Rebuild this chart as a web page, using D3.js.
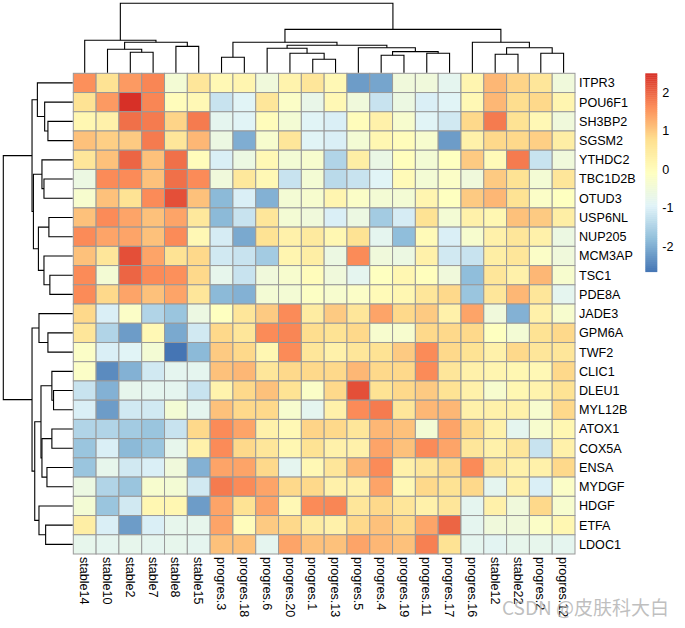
<!DOCTYPE html>
<html><head><meta charset="utf-8">
<script src="https://cdn.jsdelivr.net/npm/d3@7"></script>
<style>html,body{margin:0;padding:0;background:#fff;} svg{display:block;}</style>
</head><body>
<svg id="chart" width="685" height="628"></svg>
<script>
const rowLabels = ["ITPR3","POU6F1","SH3BP2","SGSM2","YTHDC2","TBC1D2B","OTUD3","USP6NL","NUP205","MCM3AP","TSC1","PDE8A","JADE3","GPM6A","TWF2","CLIC1","DLEU1","MYL12B","ATOX1","COX5A","ENSA","MYDGF","HDGF","ETFA","LDOC1"];
const colLabels = ["stable14","stable10","stable2","stable7","stable8","stable15","progres.3","progres.18","progres.6","progres.20","progres.1","progres.13","progres.5","progres.4","progres.19","progres.11","progres.17","progres.16","stable12","stable22","progres.2","progres.12"];
const values = [
 [1.6,0.7,1.5,1.7,-0.4,0.6,0.1,0.2,-0.5,0.25,0.6,0.1,-2.2,-2.1,-0.5,-0.5,-0.8,0.2,1.2,0.9,0.6,-0.5],
 [0.7,1.5,2.49,1.7,0,0.1,-1.2,-0.9,0.6,-0.2,-0.7,0.1,-0.5,-1.2,-0.6,-1.0,-0.9,0.1,1.2,0.8,0.85,0.2],
 [0.15,0.3,1.9,1.8,0.9,1.8,-0.8,-0.9,0,-0.4,-0.9,-1.0,0,0.3,-0.3,-0.9,-1.1,0.85,1.8,0.7,0.1,-0.5],
 [1.1,0.95,1.0,1.8,0.6,1.2,-0.6,-2.0,-0.3,0.6,-0.9,-1.0,-0.4,0.15,0,-0.3,-2.2,0.3,0.85,0.85,0.95,0.4],
 [0.6,1.1,2.0,1.1,1.9,0,-1.0,-0.6,0.1,-0.4,-0.3,-1.45,0.4,-0.65,-0.05,-0.4,-0.1,1.0,0.05,1.8,-1.2,-0.5],
 [-0.6,1.65,1.65,1.1,1.9,1.65,-0.5,0.55,0.1,-1.2,-0.4,-1.35,-1.2,-0.9,0.05,-0.4,-0.2,-0.5,1.0,0.7,-0.4,0.6],
 [-0.3,1.1,0.7,1.65,2.2,1.1,-1.85,-1.0,-1.95,-0.4,-0.3,0.2,-0.2,-0.4,-0.4,0.2,-0.1,1.0,1.2,0.7,-0.2,-0.1],
 [1.1,1.65,1.4,1.1,1.4,0.55,-1.85,-1.2,0.6,-0.4,-0.5,-1.0,-0.6,-1.6,-1.05,0.7,-0.4,0.3,0.15,1.1,1.0,0.4],
 [1.65,1.4,1.4,1.1,1.65,0.1,-1.05,-2.05,0.7,0.3,0.5,0.15,0.7,-0.8,-1.8,0.05,-1.0,-0.3,0.3,0.6,0.3,-0.6],
 [1.1,0.6,2.2,1.4,0.7,0.85,-1.1,-1.2,-1.6,0.2,0.4,-0.6,1.65,-0.5,-0.6,0.3,-1.1,-1.2,0.4,0.6,-0.2,-0.5],
 [1.65,-0.4,2.0,1.65,1.6,0.85,-0.75,-1.2,-0.5,-0.3,0,-0.5,-0.8,-0.1,0.15,-0.05,-0.5,-1.8,0.6,0.3,1.2,-0.3],
 [1.65,0.85,1.4,1.1,1.4,0.6,-1.85,-1.95,-0.4,-0.4,-0.15,-0.3,-0.2,0.05,0.15,0.6,0.85,-1.7,0.6,1.2,0.6,-0.8],
 [0.85,-1.0,-0.2,-1.45,-1.7,-0.6,-0.1,0.6,1.0,1.65,0.45,1.0,0.6,1.4,0.85,1.0,0.3,1.4,-0.5,-1.95,0.3,-0.3],
 [0.6,-1.45,-2.2,0.1,-2.05,-1.1,0.85,0.6,1.65,1.7,0.8,0.7,0.85,-0.3,-0.3,0.85,0.85,0.85,-0.1,-0.4,0.7,0.85],
 [-0.2,-1.0,-0.9,-0.4,-2.65,-1.85,1.0,0.85,0.15,1.65,0.6,0.3,0.6,0.7,1.0,1.65,0.85,0.7,0.3,0.85,0.6,0.6],
 [-0.2,-2.4,-1.95,-1.1,-0.8,-0.8,1.1,1.2,0.6,0.85,0.85,0.85,1.2,0.85,0.85,1.65,0.6,0.3,0.2,0.15,0.1,0.85],
 [-1.2,-1.95,-0.75,-0.8,-0.8,-1.2,0.25,0.85,1.1,0.7,-0.2,0.85,2.2,0.7,0.85,1.0,0.7,0.3,-0.3,0.15,0.25,0.7],
 [-1.0,-2.2,-1.1,-1.1,-0.4,-0.8,1.1,0.85,0.85,-0.3,-0.8,0.3,1.65,1.8,0.6,1.2,1.2,0.3,0.3,0.3,-0.3,0.85],
 [-1.45,-1.45,-1.6,-1.7,-1.2,0.85,1.65,1.4,0.3,0.1,0.9,0.85,0.6,1.2,1.1,-0.4,1.4,0.85,0.3,-0.8,-0.3,0.15],
 [-1.7,-1.0,-1.85,-1.7,-0.75,0.3,1.65,0.85,0.6,0.15,0.7,0.3,0.3,1.4,1.1,1.65,1.4,0.6,0.3,0.6,-1.2,0.3],
 [-1.7,-0.75,-1.1,-1.0,-0.5,-1.95,1.4,1.4,0.85,-0.8,0.1,0.6,1.2,1.65,0.3,0.6,0.85,1.65,0.6,0.3,0.3,0.85],
 [-0.6,-1.45,-1.7,-0.3,-0.4,-1.1,1.8,1.65,1.4,0.85,0.85,0.3,0.3,1.4,0.1,0.85,0.7,0.85,-0.8,0.3,-1.0,-0.2],
 [-0.4,-1.7,-1.1,0.15,0.15,-2.2,1.4,0.7,1.4,0.1,1.65,1.7,0.6,0.85,0.6,0.3,0.6,-0.8,0.3,-0.5,0.85,-0.3],
 [0.4,-1.0,-2.2,-1.0,-0.75,-0.75,1.4,0,1.0,0.85,0.45,0.3,0.85,1.1,0.85,1.4,2.0,-0.8,-0.5,-0.5,-0.2,0.15],
 [-0.75,-0.8,-0.75,-0.8,-0.75,-0.8,1.1,1.1,-0.8,1.4,1.1,1.1,1.4,1.2,1.1,1.75,0.7,-0.8,-0.85,-0.75,-0.75,-0.8]
];
// hclust-style merges: negative = leaf (1-based), positive = earlier merge (1-based); third = height
const colMerge = [
 [-3,-4,2.94],[-2,1,3.37],[-5,-6,3.80],[2,3,4.38],[-1,4,4.67],
 [-7,-8,2.22],[-11,-12,1.93],[-10,7,2.80],[-9,8,3.52],[-14,-15,2.51],
 [-16,-17,2.80],[10,11,3.03],[-13,12,3.60],[9,13,3.95],[6,14,4.38],
 [-19,-20,2.65],[-21,-22,2.80],[16,17,3.60],[-18,18,4.38],[15,19,6.25],[5,20,10.0]
];
const rowMerge = [
 [-3,-4,3.57],[-2,1,4.04],[-1,2,5.09],[-6,-7,4.14],[-5,4,4.43],
 [-8,-9,3.43],[-11,-12,3.29],[-10,7,4.14],[6,8,4.94],[5,9,5.66],[3,10,5.86],
 [-14,-15,3.57],[-13,12,4.86],[-17,-18,2.76],[-16,14,3.00],[-19,-20,3.00],
 [-21,-22,3.71],[16,17,4.43],[15,18,4.57],[-24,-25,3.90],[-23,20,4.86],
 [19,21,5.47],[13,22,5.86],[11,23,10.0]
];
const legendTicks = [-2,-1,0,1,2];
const paletteColors = ["#4575B4","#91BFDB","#E0F3F8","#FFFFBF","#FEE090","#FC8D59","#D73027"];
const watermark = "CSDN @皮肤科大白";

const svg = d3.select("#chart");
const FONT = "'Liberation Sans', Arial, sans-serif";
const FS = 12.6;
const hm = {left:73.3, top:73.3, right:575, bottom:554};
const x = d3.scaleBand().domain(colLabels).range([hm.left, hm.right]);
const y = d3.scaleBand().domain(rowLabels).range([hm.top, hm.bottom]);
const [vmin, vmax] = d3.extent(values.flat());
const color = d3.scaleLinear()
  .domain(paletteColors.map((c,i)=> vmin + (vmax-vmin)*i/(paletteColors.length-1)))
  .range(paletteColors);

// cells
const cells = [];
values.forEach((row,i)=>row.forEach((v,j)=>cells.push({r:rowLabels[i], c:colLabels[j], v})));
svg.append("g").selectAll("rect").data(cells).join("rect")
  .attr("x", d=>x(d.c)).attr("y", d=>y(d.r))
  .attr("width", x.bandwidth()).attr("height", y.bandwidth())
  .attr("fill", d=>color(d.v)).attr("stroke", "#999999").attr("stroke-width", 1);

// dendrograms
function drawTree(merge, leafPos, hScale, orient){
  const nodes = [];
  const get = k => k < 0 ? {pos: leafPos(-k-1), h: 0} : nodes[k-1];
  const segs = [];
  merge.forEach(([a,b,h])=>{
    const A = get(a), B = get(b);
    nodes.push({pos:(A.pos+B.pos)/2, h});
    segs.push([[A.pos,A.h],[A.pos,h],[B.pos,h],[B.pos,B.h]]);
  });
  const map = orient === "top" ? (p => [p[0], hScale(p[1])]) : (p => [hScale(p[1]), p[0]]);
  svg.append("g").selectAll("path").data(segs).join("path")
    .attr("d", s => d3.line()(s.map(map)))
    .attr("fill","none").attr("stroke","#000").attr("stroke-width",1.1);
}
const colH = d3.scaleLinear().domain([0, d3.max(colMerge, m=>m[2])]).range([hm.top-0.6, 3.3]);
const rowH = d3.scaleLinear().domain([0, d3.max(rowMerge, m=>m[2])]).range([hm.left-0.6, 3.3]);
drawTree(colMerge, i => x(colLabels[i]) + x.bandwidth()/2, colH, "top");
drawTree(rowMerge, i => y(rowLabels[i]) + y.bandwidth()/2, rowH, "left");

// row labels
svg.append("g").selectAll("text").data(rowLabels).join("text")
  .attr("x", hm.right + 4).attr("y", d => y(d) + y.bandwidth()/2)
  .attr("dy", "0.35em").attr("font-family", FONT).attr("font-size", FS).attr("fill","#000")
  .text(d=>d);
// col labels
svg.append("g").selectAll("text").data(colLabels).join("text")
  .attr("transform", d => `translate(${x(d)+x.bandwidth()/2},${hm.bottom+3}) rotate(90)`)
  .attr("dy", "0.35em").attr("font-family", FONT).attr("font-size", FS).attr("fill","#000")
  .text(d=>d);

// legend
const lg = {x:645.3, w:12, top:73.3, bottom:271.7};
const ly = d3.scaleLinear().domain([vmin, vmax]).range([lg.bottom, lg.top]);
const nSteps = 100;
const steps = d3.range(nSteps).map(i => vmin + (vmax-vmin)*i/nSteps);
const stepV = (vmax-vmin)/nSteps;
svg.append("g").selectAll("rect").data(steps).join("rect")
  .attr("x", lg.x).attr("width", lg.w)
  .attr("y", d => ly(d+stepV)).attr("height", d => ly(d)-ly(d+stepV)+0.4)
  .attr("fill", d => color(d+stepV/2));
svg.append("g").selectAll("text").data(legendTicks).join("text")
  .attr("x", lg.x + lg.w + 5).attr("y", d => ly(d)).attr("dy","0.35em")
  .attr("font-family", FONT).attr("font-size", FS).attr("fill","#000")
  .text(d => d);

// watermark
svg.append("text").attr("x", 502).attr("y", 615)
  .attr("font-family", "'Noto Sans CJK SC', 'Liberation Sans', sans-serif").attr("font-size", 19)
  .attr("fill", "#b4b4b4").attr("fill-opacity", 0.85).text(watermark);
</script>
</body></html>
